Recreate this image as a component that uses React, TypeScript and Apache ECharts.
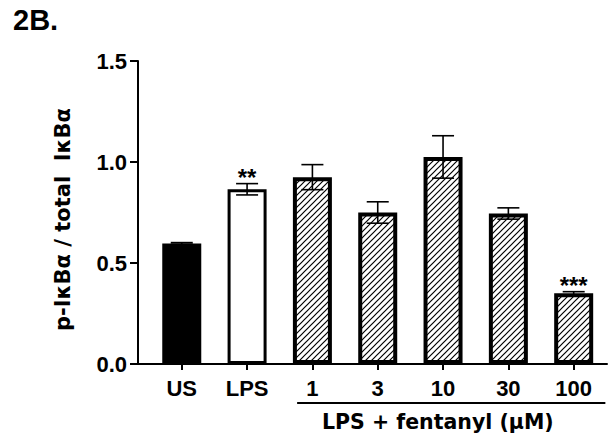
import React, { useEffect, useRef } from "react";
import * as echarts from "echarts";

const categories = ["US", "LPS", "1", "3", "10", "30", "100"];
const means = [0.597, 0.865, 0.925, 0.75, 1.025, 0.745, 0.35];
const sems = [0.004, 0.028, 0.062, 0.053, 0.105, 0.028, 0.008];
const significance = ["", "**", "", "", "", "", "***"];
const yTickValues = [0, 0.5, 1.0, 1.5];
const yAxisTitle = "p-I\u03baB\u03b1 / total  I\u03baB\u03b1";
const groupLabel = "LPS + fentanyl (\u03bcM)";
const panelTitle = "2B.";

const FONT = 'Arial, "Liberation Sans", Helvetica, sans-serif';
const WIDE = '"DejaVu Sans", Verdana, sans-serif';

function makeHatch(): HTMLCanvasElement {
  const c = document.createElement("canvas");
  c.width = 6;
  c.height = 6;
  const ctx = c.getContext("2d")!;
  ctx.fillStyle = "#fff";
  ctx.fillRect(0, 0, 6, 6);
  ctx.strokeStyle = "#000";
  ctx.lineWidth = 1.2;
  ctx.beginPath();
  ctx.moveTo(0, 6);
  ctx.lineTo(6, 0);
  ctx.moveTo(-1, 1);
  ctx.lineTo(1, -1);
  ctx.moveTo(5, 7);
  ctx.lineTo(7, 5);
  ctx.stroke();
  return c;
}

export default function App() {
  const ref = useRef<HTMLDivElement>(null);

  useEffect(() => {
    if (!ref.current) return;
    const chart = echarts.init(ref.current, undefined, { renderer: "svg" });
    const hatch = makeHatch();

    const barItemStyle = (i: number) => {
      if (i === 0) return { color: "#000", borderColor: "#000", borderWidth: 3 };
      if (i === 1) return { color: "#fff", borderColor: "#000", borderWidth: 3 };
      return {
        color: { image: hatch, repeat: "repeat" },
        borderColor: "#000",
        borderWidth: 4,
      };
    };

    const xMin = -0.67;
    const xMax = 6.51;

    chart.setOption({
      animation: false,
      backgroundColor: "#fff",
      grid: { left: 138, right: 1, top: 61, bottom: 77 },
      title: {
        text: panelTitle,
        left: 8,
        top: 0,
        textStyle: { fontFamily: FONT, fontWeight: "bold", fontSize: 29, color: "#000" },
      },
      xAxis: {
        type: "value",
        min: xMin,
        max: xMax,
        axisLine: { show: true, onZero: false, lineStyle: { color: "#000", width: 2 } },
        axisTick: {
          show: true,
          customValues: categories.map((_, i) => i),
          length: 6,
          lineStyle: { color: "#000", width: 2 },
        },
        axisLabel: {
          customValues: categories.map((_, i) => i),
          formatter: (v: number) => categories[Math.round(v)] ?? "",
          fontFamily: FONT,
          fontWeight: "bold",
          fontSize: 22,
          color: "#000",
          margin: 13,
        },
        splitLine: { show: false },
      },
      yAxis: {
        type: "value",
        min: 0,
        max: 1.5,
        interval: 0.5,
        axisLine: { show: true, onZero: false, lineStyle: { color: "#000", width: 2 } },
        axisTick: { show: true, length: 8, lineStyle: { color: "#000", width: 2 } },
        axisLabel: {
          customValues: yTickValues,
          formatter: (v: number) => v.toFixed(1),
          fontFamily: FONT,
          fontWeight: "bold",
          fontSize: 22,
          color: "#000",
          margin: 11,
        },
        splitLine: { show: false },
        name: yAxisTitle,
        nameLocation: "middle",
        nameRotate: 90,
        nameGap: 65,
        nameTextStyle: {
          fontFamily: WIDE,
          fontWeight: "bold",
          fontSize: 21,
          color: "#000",
          padding: [0, 14, 0, 0],
        },
      },
      series: [
        {
          type: "bar",
          barWidth: 39,
          z: 2,
          data: means.map((m, i) => ({ value: [i, m], itemStyle: barItemStyle(i) })),
        },
        {
          type: "custom",
          z: 5,
          encode: { x: 0, y: 1 },
          data: means.map((m, i) => [i, m, sems[i]]),
          renderItem: (params: any, api: any) => {
            const x = api.value(0);
            const m = api.value(1);
            const s = api.value(2);
            const top = api.coord([x, m + s]);
            const bot = api.coord([x, m - s]);
            const hw = 11;
            const ls = { stroke: "#000", lineWidth: 1.6 };
            const children: any[] = [
              { type: "line", shape: { x1: top[0], y1: top[1], x2: bot[0], y2: bot[1] }, style: ls },
              { type: "line", shape: { x1: top[0] - hw, y1: top[1], x2: top[0] + hw, y2: top[1] }, style: ls },
              { type: "line", shape: { x1: bot[0] - hw, y1: bot[1], x2: bot[0] + hw, y2: bot[1] }, style: ls },
            ];
            const sig = significance[params.dataIndex];
            if (sig) {
              children.push({
                type: "text",
                x: top[0],
                y: top[1] - 6,
                style: {
                  text: sig,
                  fill: "#000",
                  font: `bold 24px ${FONT}`,
                  textAlign: "center",
                  textVerticalAlign: "middle",
                },
              });
            }
            return { type: "group", children };
          },
        },
      ],
    });

    const left = chart.convertToPixel({ xAxisIndex: 0 }, 1.766) as number;
    const right = chart.convertToPixel({ xAxisIndex: 0 }, 6.485) as number;
    const mid = chart.convertToPixel({ xAxisIndex: 0 }, 3.92) as number;
    const base = chart.convertToPixel({ yAxisIndex: 0 }, 0) as number;
    chart.setOption({
      graphic: [
        {
          type: "line",
          shape: { x1: left, y1: base + 39, x2: right, y2: base + 39 },
          style: { stroke: "#000", lineWidth: 2.2 },
        },
        {
          type: "text",
          x: mid,
          y: base + 58,
          style: {
            text: groupLabel,
            fill: "#000",
            font: `bold 20.5px ${WIDE}`,
            textAlign: "center",
            textVerticalAlign: "middle",
          },
        },
      ],
    });

    return () => chart.dispose();
  }, []);

  return (
    <div
      ref={ref}
      style={{ position: "fixed", left: 0, top: 0, width: 608, height: 441, background: "#fff" }}
    />
  );
}
